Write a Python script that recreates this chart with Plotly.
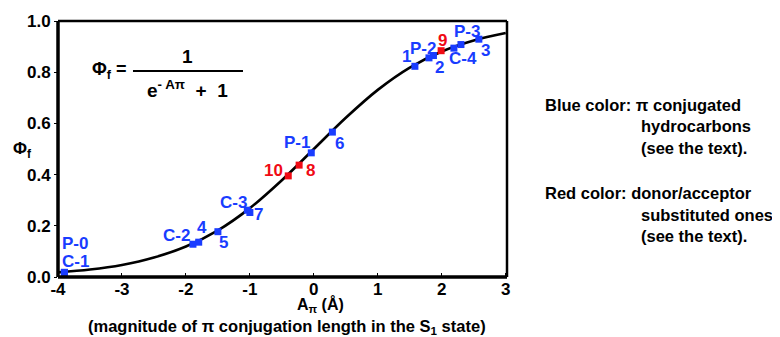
import plotly.graph_objects as go

# ---- data ----
curve_x = [-4.0, -3.5, -3.0, -2.5, -2.0, -1.5, -1.0, -0.5, 0.0, 0.5, 1.0, 1.5, 2.0, 2.5, 3.0]
curve_y = [0.018, 0.029, 0.047, 0.076, 0.119, 0.182, 0.269, 0.378, 0.500, 0.622, 0.731, 0.818, 0.881, 0.924, 0.953]

blue_labels = ["P-0", "C-1", "C-2", "4", "5", "C-3", "7", "P-1", "6", "1", "P-2", "2", "C-4", "P-3", "3"]
blue_x = [-3.90, -3.90, -1.89, -1.80, -1.50, -1.04, -1.00, -0.04, 0.29, 1.58, 1.80, 1.87, 2.19, 2.30, 2.58]
blue_y = [0.018, 0.018, 0.128, 0.136, 0.177, 0.261, 0.252, 0.485, 0.566, 0.823, 0.856, 0.865, 0.894, 0.908, 0.929]

red_labels = ["10", "8", "9"]
red_x = [-0.40, -0.23, 1.99]
red_y = [0.395, 0.437, 0.884]

x_ticks = [-4, -3, -2, -1, 0, 1, 2, 3]
x_ticktext = ["-4", "-3", "-2", "-1", "0", "1", "2", "3"]
y_ticks = [0, 0.2, 0.4, 0.6, 0.8, 1.0]
y_ticktext = ["0.0", "0.2", "0.4", "0.6", "0.8", "1.0"]

# ---- styles ----
BLUE = "rgb(25,60,255)"
RED = "rgb(240,10,20)"
FONT = "Liberation Sans, Arial, sans-serif"

label_offsets = {  # (xshift, yshift) in px
    "P-0": (11, 29), "C-1": (11, 11), "C-2": (-16, 9), "4": (3, 15), "5": (6, -11),
    "C-3": (-14, 8), "7": (9, -2), "P-1": (-14, 10), "6": (7, -11),
    "1": (-8, 10), "P-2": (-6, 9), "2": (6, -12), "C-4": (9, -10), "P-3": (6, 13), "3": (7, -11),
    "10": (-15, 5), "8": (11, -5), "9": (1, 10),
}

fig = go.Figure()
fig.add_trace(go.Scatter(x=curve_x, y=curve_y, mode="lines", line=dict(color="black", width=2.6, shape="spline"),
                         hoverinfo="skip", showlegend=False))
fig.add_trace(go.Scatter(x=blue_x, y=blue_y, mode="markers",
                         marker=dict(symbol="square", size=7, color=BLUE), showlegend=False))
fig.add_trace(go.Scatter(x=red_x, y=red_y, mode="markers",
                         marker=dict(symbol="square", size=7, color=RED), showlegend=False))

annotations = []
for lab, xx, yy in zip(blue_labels, blue_x, blue_y):
    dx, dy = label_offsets[lab]
    annotations.append(dict(x=xx, y=yy, xref="x", yref="y", text=lab, showarrow=False,
                            xshift=dx, yshift=dy, font=dict(family=FONT, size=17, color=BLUE, weight="bold")))
for lab, xx, yy in zip(red_labels, red_x, red_y):
    dx, dy = label_offsets[lab]
    annotations.append(dict(x=xx, y=yy, xref="x", yref="y", text=lab, showarrow=False,
                            xshift=dx, yshift=dy, font=dict(family=FONT, size=17, color=RED, weight="bold")))

def txt(x, y, t, size=16, xanchor="center", color="black"):
    annotations.append(dict(x=x, y=y, xref="paper", yref="paper", text=t, showarrow=False,
                            xanchor=xanchor, yanchor="middle",
                            font=dict(family=FONT, size=size, color=color, weight="bold")))

# formula
txt(0.1136, 0.805, "Φ<sub>f</sub> =", size=18)
txt(0.2895, 0.862, "1", size=19)
txt(0.2895, 0.735, "e<sup>- Aπ</sup>  +  1", size=19)
# axis titles
txt(-0.080, 0.496, "Φ<sub>f</sub>", size=17)
txt(0.585, -0.110, "A<sub>π</sub> (Å)", size=16)
txt(0.510, -0.195, "(magnitude of π conjugation length in the S<sub>1</sub> state)", size=16.5)
# right notes
txt(1.080, 0.672, "Blue color: π conjugated", size=16.5, xanchor="left")
txt(1.294, 0.588, "hydrocarbons", size=16.5, xanchor="left")
txt(1.294, 0.504, "(see the text).", size=16.5, xanchor="left")
txt(1.080, 0.328, "Red color: donor/acceptor", size=16.5, xanchor="left")
txt(1.294, 0.244, "substituted ones", size=16.5, xanchor="left")
txt(1.294, 0.160, "(see the text).", size=16.5, xanchor="left")

shapes = [
    dict(type="line", xref="paper", yref="paper", x0=0.167, x1=0.412, y0=0.805, y1=0.805,
         line=dict(color="black", width=2)),
    dict(type="line", xref="paper", yref="paper", x0=0, x1=0, y0=0, y1=1, line=dict(color="black", width=3.5)),
    dict(type="line", xref="paper", yref="paper", x0=0, x1=1, y0=0, y1=0, line=dict(color="black", width=3.5)),
    dict(type="line", xref="paper", yref="paper", x0=0, x1=1, y0=1, y1=1, line=dict(color="black", width=2.5)),
    dict(type="line", xref="paper", yref="paper", x0=1, x1=1, y0=0, y1=1, line=dict(color="black", width=2.5)),
]

# the page places the figure 8 px from the top-left corner
fig.update_layout(
    width=772, height=329,
    margin=dict(l=50, r=273, t=13, b=60, autoexpand=False),
    paper_bgcolor="white", plot_bgcolor="white",
    annotations=annotations, shapes=shapes,
    xaxis=dict(range=[-4.0, 3.02], tickvals=x_ticks, ticktext=x_ticktext, showgrid=False, zeroline=False,
               showline=False, ticks="inside", ticklen=4, tickcolor="black", tickwidth=1, automargin=False,
               tickfont=dict(family=FONT, size=17, color="black", weight="bold")),
    yaxis=dict(range=[0, 1.0], tickvals=y_ticks, ticktext=y_ticktext, showgrid=False,
               zeroline=False, showline=False, ticks="outside", ticklen=3, tickcolor="black", tickwidth=1,
               automargin=False, tickfont=dict(family=FONT, size=17, color="black", weight="bold")),
)

fig.write_html("out.html")
